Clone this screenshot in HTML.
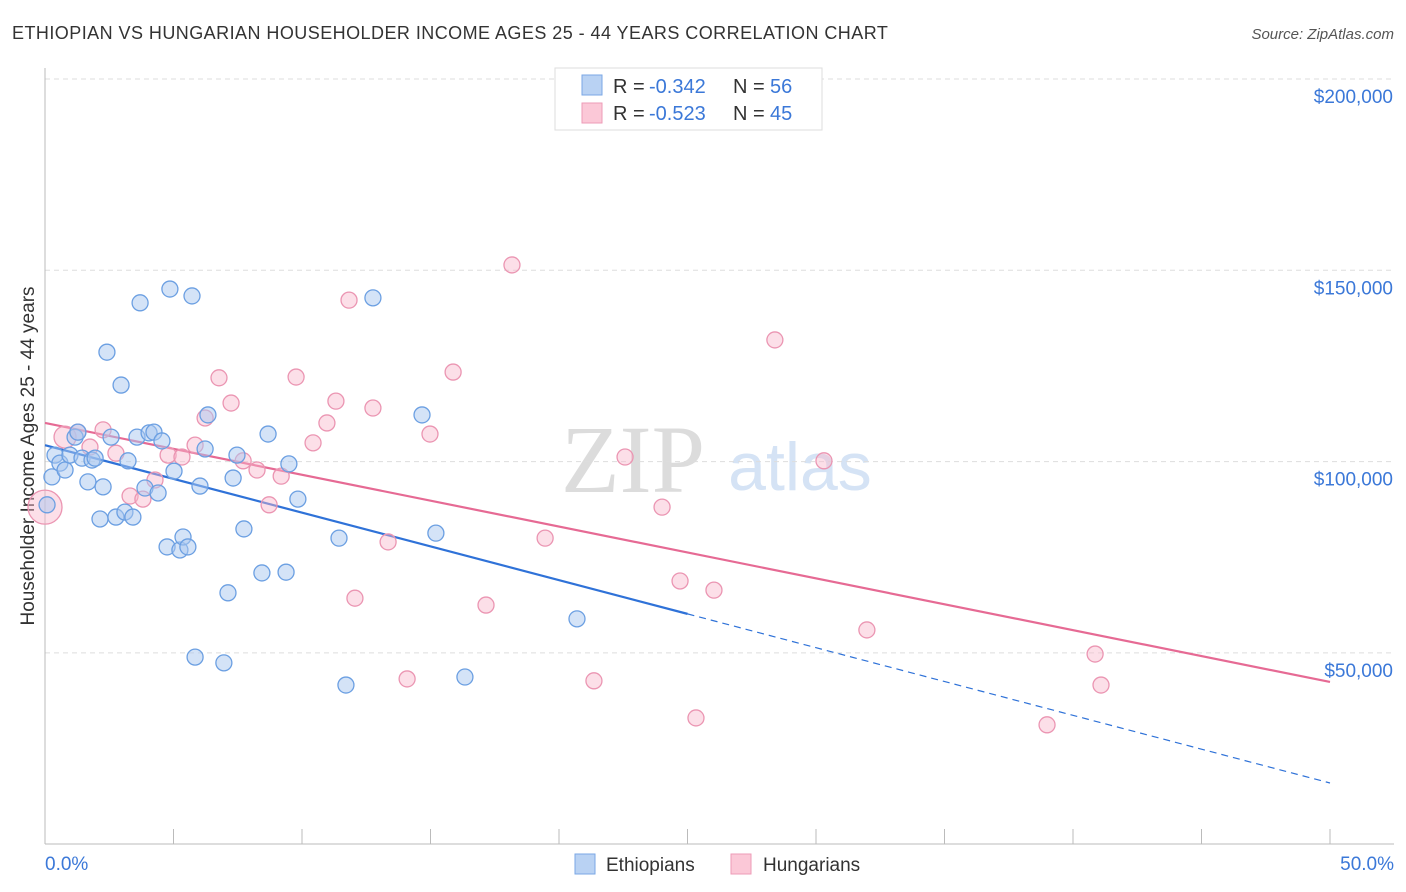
<!DOCTYPE html>
<html><head><meta charset="utf-8">
<style>
body{margin:0;background:#fff;font-family:"Liberation Sans",sans-serif;}
svg{display:block}
</style></head>
<body>
<svg id="chart" width="1406" height="892" xmlns="http://www.w3.org/2000/svg">
<text x="12" y="39" font-size="18" letter-spacing="0.45" fill="#333">ETHIOPIAN VS HUNGARIAN HOUSEHOLDER INCOME AGES 25 - 44 YEARS CORRELATION CHART</text>
<text x="1394" y="39" font-size="15" fill="#555" font-style="italic" text-anchor="end">Source: ZipAtlas.com</text>
<text x="633" y="492" font-size="96" fill="#dcdcdc" font-family="Liberation Serif,serif" text-anchor="middle">ZIP</text>
<text x="800" y="490" font-size="68" fill="#d5e3f5" text-anchor="middle">atlas</text>
<text transform="translate(34,456) rotate(-90)" font-size="19" fill="#333" text-anchor="middle">Householder Income Ages 25 - 44 years</text>
<g id="grid"></g><g id="axes"></g><g id="lines"></g><g id="pts"></g>
<g>
<rect x="555" y="68" width="267" height="62" fill="#fff" stroke="#ddd"/>
<rect x="582" y="75" width="20" height="20" fill="#b9d2f3" stroke="#7aa7e6"/>
<rect x="582" y="103" width="20" height="20" fill="#fbc8d7" stroke="#ee9bb7"/>
<text x="613" y="93" font-size="20" fill="#333">R =</text>
<text x="649" y="93" font-size="20" fill="#3b78d8">-0.342</text>
<text x="733" y="93" font-size="20" fill="#333">N =</text>
<text x="770" y="93" font-size="20" fill="#3b78d8">56</text>
<text x="613" y="120" font-size="20" fill="#333">R =</text>
<text x="649" y="120" font-size="20" fill="#3b78d8">-0.523</text>
<text x="733" y="120" font-size="20" fill="#333">N =</text>
<text x="770" y="120" font-size="20" fill="#3b78d8">45</text>
</g>
<g>
<rect x="575" y="854" width="20" height="20" fill="#b9d2f3" stroke="#7aa7e6"/>
<text x="606" y="871" font-size="19" fill="#333">Ethiopians</text>
<rect x="731" y="854" width="20" height="20" fill="#fbc8d7" stroke="#ee9bb7"/>
<text x="763" y="871" font-size="19" fill="#333">Hungarians</text>
</g>
</svg>
<script>
const yTicks=[50,100,150,200];
const yTickLabels=["$50,000","$100,000","$150,000","$200,000"];
const xTicks=[0,5,10,15,20,25,30,35,40,45,50];
const ethX=[0.08,0.27,0.39,0.58,0.78,0.97,1.17,1.28,1.44,1.67,1.83,1.95,2.14,2.26,2.41,2.57,2.76,2.96,3.11,3.23,3.42,3.58,3.70,3.89,4.05,4.24,4.40,4.55,4.75,4.86,5.02,5.25,5.37,5.56,5.72,5.84,6.03,6.23,6.34,6.96,7.12,7.32,7.47,7.74,8.44,8.68,9.38,9.49,9.84,11.44,11.71,12.76,14.67,15.21,16.34,20.70];
const ethY=[88.7,96.0,101.7,99.6,97.8,101.7,106.4,107.7,100.9,94.7,100.4,100.9,85.0,93.4,128.6,106.4,85.5,120.0,86.8,100.2,85.5,106.4,141.5,93.1,107.5,107.7,91.8,105.4,77.7,145.1,97.5,76.9,80.3,77.7,143.3,48.9,93.6,103.3,112.2,47.4,65.7,95.7,101.7,82.4,70.9,107.2,71.1,99.4,90.2,80.0,41.6,142.8,112.2,81.3,43.7,58.9];
const hunX=[0.0,0.78,1.28,1.75,2.26,2.76,3.31,3.81,4.28,4.79,5.33,5.84,6.23,6.77,7.24,7.71,8.25,8.72,9.19,9.77,10.43,10.97,11.32,11.83,12.06,12.76,13.35,14.09,14.98,15.88,17.16,18.17,19.46,21.36,22.57,24.01,24.71,25.33,26.03,28.40,30.31,31.98,38.99,40.86,41.09];
const hunY=[88.1,106.4,107.7,103.8,108.3,102.2,91.0,90.2,95.2,101.7,101.2,104.3,111.4,121.9,115.3,100.2,97.8,88.7,96.2,122.1,104.9,110.1,115.8,142.2,64.3,114.0,79.0,43.2,107.2,123.4,62.5,151.4,80.0,42.7,101.2,88.1,68.8,33.0,66.4,131.8,100.2,56.0,31.2,49.7,41.6];
const ethTrend=[104.3,60.2,16.0]; // at x=0,25,50
const hunTrend=[110.1,42.4]; // at x=0,50
const NS="http://www.w3.org/2000/svg";
const X=v=>45+v/5*128.5;
const Y=v=>79+(200-v)/50*191.3;
function mk(t,a,p){const e=document.createElementNS(NS,t);for(const k in a)e.setAttribute(k,a[k]);p.appendChild(e);return e;}
const grid=document.getElementById('grid'),axes=document.getElementById('axes'),lines=document.getElementById('lines'),pts=document.getElementById('pts');
yTicks.forEach((t,i)=>{
 const l=mk('line',{x1:45,x2:1394,y1:Y(t),y2:Y(t),stroke:'#ddd','stroke-dasharray':'5,4'},grid);
 
 
 const tx=mk('text',{x:1393,y:Y(t)+24,'font-size':19,fill:'#3b78d8','text-anchor':'end'},axes);
 tx.textContent=yTickLabels[i];
 
 
});
const ax=mk('line',{x1:45,x2:1394,y1:844,y2:844,stroke:'#bbb'},axes);


const ay=mk('line',{x1:45,x2:45,y1:68,y2:844,stroke:'#bbb'},axes);


xTicks.forEach(t=>{
 const l=mk('line',{x1:X(t),x2:X(t),y1:829,y2:844,stroke:'#bbb'},axes);
 
 
});
[[0,'0.0%','start',45],[50,'50.0%','end',1394]].forEach(d=>{
 const tx=mk('text',{x:d[3],y:870,'font-size':19,fill:'#3b78d8','text-anchor':d[2]},axes);
 tx.textContent=d[1];
 
 
});
function dot(x,y,r,f,s,name){
 const c=mk('circle',{cx:X(x),cy:Y(y),r:r,fill:f,stroke:s,'stroke-width':1.3},pts);
 
 
}
hunX.forEach((x,i)=>dot(x,hunY[i],i===0?17:(i===1?11:8),'rgba(248,185,205,0.45)','#eb95b2','hungarian-point'));
ethX.forEach((x,i)=>dot(x,ethY[i],8,'rgba(170,200,240,0.5)','#6b9fe2','ethiopian-point'));
const b1=mk('line',{x1:X(0),y1:Y(ethTrend[0]),x2:X(25),y2:Y(ethTrend[1]),stroke:'#2f72d8','stroke-width':2.2},lines);


const b2=mk('line',{x1:X(25),y1:Y(ethTrend[1]),x2:X(50),y2:Y(ethTrend[2]),stroke:'#2f72d8','stroke-width':1.2,'stroke-dasharray':'7,5'},lines);


const p1=mk('line',{x1:X(0),y1:Y(hunTrend[0]),x2:X(50),y2:Y(hunTrend[1]),stroke:'#e66a94','stroke-width':2.2},lines);


</script>
</body></html>
